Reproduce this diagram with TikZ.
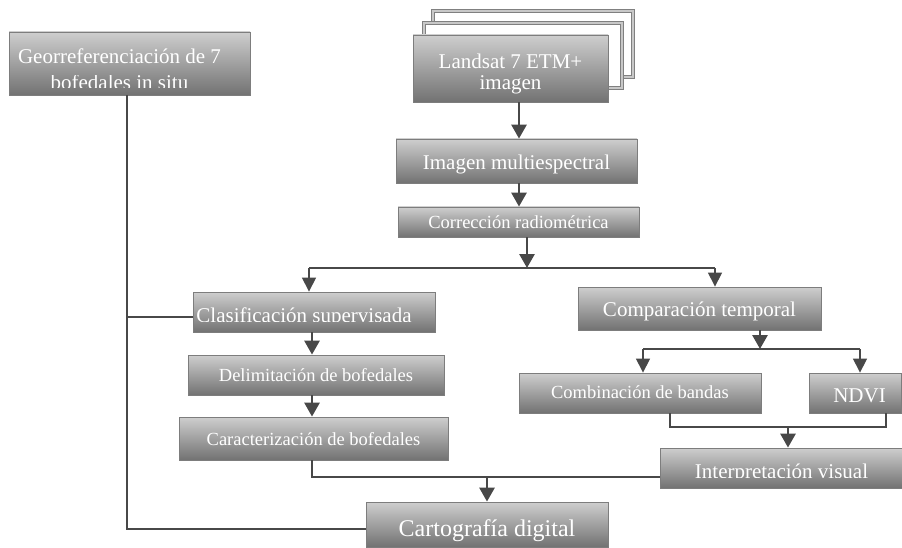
\documentclass[tikz,border=0pt]{standalone}
\usepackage{fontspec}
\setmainfont{Liberation Serif}
\usepackage{trimclip}
\usetikzlibrary{arrows.meta}
\definecolor{boxtop}{RGB}{206,206,206}
\definecolor{boxbot}{RGB}{114,114,114}
\definecolor{boxedge}{RGB}{125,125,125}
\definecolor{linec}{RGB}{72,72,72}
\definecolor{framec}{RGB}{128,128,128}
\definecolor{framein}{RGB}{200,200,200}
\newcommand\sx[2]{\makebox[0pt][c]{\hspace*{#1}#2}}
\begin{document}
\begin{tikzpicture}[x=1pt,y=-1pt,
  boxnode/.style={rectangle, draw=boxedge, line width=0.8pt, top color=boxtop, bottom color=boxbot,
    text=white, inner sep=0pt, font=\fontsize{21}{24}\selectfont},
  smalltxt/.style={font=\fontsize{18.5}{22}\selectfont},
  bigtxt/.style={font=\fontsize{24}{28}\selectfont},
  bl/.style={text height=#1, text depth=0pt},
  frame/.style={draw=framec, fill=white, line width=1.1pt, double=framein, double distance=1.1pt},
  conn/.style={draw=linec, line width=1.2pt},
  arrthick/.style={draw=linec, line width=2.8pt, -{Triangle[width=15pt,length=14pt]}},
  arrthin/.style={draw=linec, line width=1.2pt, -{Triangle[width=14pt,length=14pt]}}]
\useasboundingbox (0,0) rectangle (902,548);

% stacked frames behind Landsat
\draw[frame] (433,11) rectangle (633,77);
\draw[frame] (424,23) rectangle (622,88);

\node[boxnode, minimum width=241pt, minimum height=63pt, align=center, bl=49pt]
  (geo) at (129.5,63.5) {\sx{-20pt}{Georreferenciación de 7}\\ \sx{-20pt}{\clipbox{0pt 2pt 0pt 0pt}{bofedales in situ}}};
\node[boxnode, minimum width=195pt, minimum height=67pt, align=center, bl=42pt]
  (land) at (510.5,68.5) {Landsat 7 ETM+\\[-3pt] imagen};
\node[boxnode, minimum width=241pt, minimum height=44pt, bl=18pt] (imag) at (516.5,161) {Imagen multiespectral};
\node[boxnode, smalltxt, minimum width=241pt, minimum height=30pt, bl=12.6pt] (corr) at (518.5,222) {Corrección radiométrica};
\node[boxnode, minimum width=242pt, minimum height=40pt, bl=18pt] (clas) at (314,312)
  {\sx{-20pt}{\clipbox{0pt 6pt 0pt 0pt}{Clasificación supervisada}}};
\node[boxnode, smalltxt, minimum width=256pt, minimum height=40pt, bl=13.4pt] (deli) at (316,375) {Delimitación de bofedales};
\node[boxnode, smalltxt, minimum width=269pt, minimum height=43pt, bl=13pt] (cara) at (313.5,438.5) {Caracterización de bofedales};
\node[boxnode, minimum width=243pt, minimum height=43pt, bl=15pt] (comp) at (699.5,308.5) {Comparación temporal};
\node[boxnode, smalltxt, minimum width=242pt, minimum height=40pt, bl=10.6pt] (comb) at (640,393) {Combinación de bandas};
\node[boxnode, minimum width=92pt, minimum height=40pt, bl=19.4pt] (ndvi) at (855,393) {\sx{9pt}{NDVI}};
\node[boxnode, minimum width=243pt, minimum height=40pt, bl=19pt] (interp) at (781.5,468)
  {\clipbox{0pt 5pt 0pt 0pt}{Interpretación visual}};
\node[boxnode, bigtxt, minimum width=242pt, minimum height=45pt, bl=23pt] (cart) at (487,524.5) {Cartografía digital};

% coordinates for connectors
\coordinate (a1) at (519,0);
\coordinate (s1) at (527,268);
\coordinate (s1l) at (309,268);
\coordinate (s1r) at (715,268);
\coordinate (s2) at (760,349);
\coordinate (s2l) at (643,349);
\coordinate (s2r) at (860,349);
\coordinate (j1) at (670,427);
\coordinate (j1r) at (886,427);
\coordinate (j1m) at (788,427);
\coordinate (j2) at (312,477);
\coordinate (g1) at (127,317);
\coordinate (g2) at (127,529);

% connectors
\draw[arrthick] (a1 |- land.south) -- (a1 |- imag.north);
\draw[arrthick] (a1 |- imag.south) -- (a1 |- corr.north);
\draw[arrthick] (s1 |- corr.south) -- (s1);
\draw[conn] (s1l) -- (s1r);
\draw[arrthin] (s1l) -- (s1l |- clas.north);
\draw[arrthin] (s1r) -- (s1r |- comp.north);
\draw[arrthick] (j2 |- clas.south) -- (j2 |- deli.north);
\draw[arrthick] (j2 |- deli.south) -- (j2 |- cara.north);
\draw[arrthick] (s2 |- comp.south) -- (s2);
\draw[conn] (s2l) -- (s2r);
\draw[arrthin] (s2l) -- (s2l |- comb.north);
\draw[arrthin] (s2r) -- (s2r |- ndvi.north);
\draw[conn] (j1 |- comb.south) -- (j1) -- (j1r) -- (j1r |- ndvi.south);
\draw[arrthick] (j1m) -- (j1m |- interp.north);
\draw[conn] (j2 |- cara.south) -- (j2) -- (j2 -| interp.west);
\draw[arrthick] (cart.north |- j2) -- (cart.north);
\draw[conn] (g1 |- geo.south) -- (g2) -- (g2 -| cart.west);
\draw[conn] (g1) -- (g1 -| clas.west);
\end{tikzpicture}
\end{document}
